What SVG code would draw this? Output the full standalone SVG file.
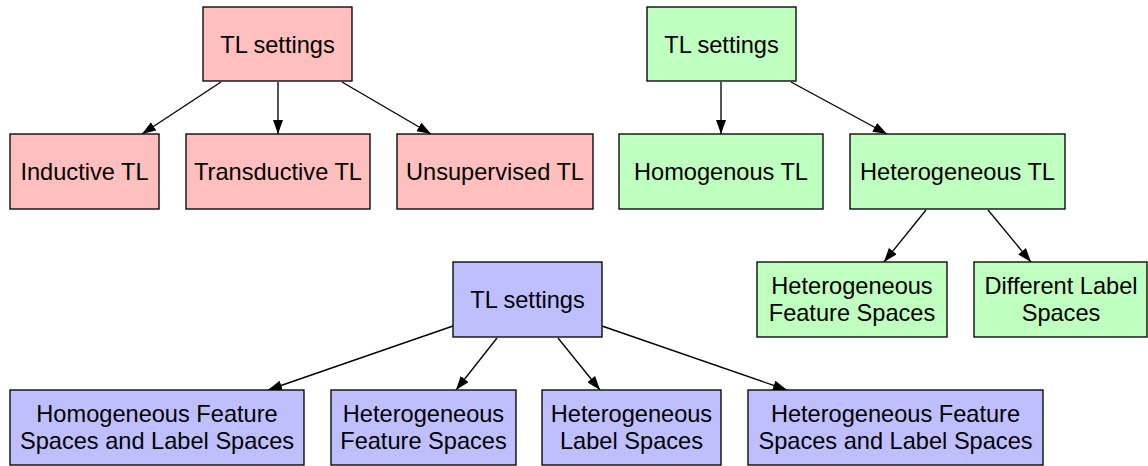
<svg xmlns="http://www.w3.org/2000/svg" width="1148" height="466" viewBox="0 0 1148 466">
<defs>
<style>
.n rect{stroke:#000;stroke-width:1.33}
.r rect{fill:#ffbfbf}
.g rect{fill:#bfffbf}
.b rect{fill:#bfbfff}
text{font-family:"Liberation Sans",Arial,Helvetica,sans-serif;font-size:23.6px;fill:#000;text-anchor:middle}
.e line{stroke:#000;stroke-width:1.33;marker-end:url(#ah)}
</style>
<marker id="ah" markerUnits="userSpaceOnUse" viewBox="0 0 14 10" markerWidth="14" markerHeight="10" refX="14" refY="5" orient="auto">
<path d="M0,0 L14,5 L0,10 z" fill="#000"/>
</marker>
</defs>
<rect width="1148" height="466" fill="#fff"/>
<g id="connectors" class="e">
<line x1="221" y1="82" x2="142" y2="134"/>
<line x1="278" y1="82" x2="278" y2="134"/>
<line x1="342" y1="82" x2="431" y2="134"/>
<line x1="721" y1="82" x2="721" y2="134"/>
<line x1="791" y1="82" x2="887" y2="134"/>
<line x1="926" y1="210" x2="884" y2="262"/>
<line x1="988" y1="210" x2="1031" y2="262"/>
<line x1="453" y1="326" x2="268" y2="390"/>
<line x1="497" y1="338" x2="456" y2="390"/>
<line x1="558" y1="338" x2="600" y2="390"/>
<line x1="602" y1="326" x2="787" y2="390"/>
</g>
<g id="red-root" class="n r"><rect x="203" y="7" width="149" height="74"/><text x="277.5" y="53">TL settings</text></g>
<g id="inductive" class="n r"><rect x="10" y="134" width="149" height="75"/><text x="84.5" y="180">Inductive TL</text></g>
<g id="transductive" class="n r"><rect x="186" y="134" width="184" height="75"/><text x="278" y="180">Transductive TL</text></g>
<g id="unsupervised" class="n r"><rect x="397" y="134" width="196" height="75"/><text x="495" y="180">Unsupervised TL</text></g>
<g id="green-root" class="n g"><rect x="647" y="7" width="149" height="74"/><text x="721.5" y="53">TL settings</text></g>
<g id="homogenous" class="n g"><rect x="619" y="134" width="204" height="75"/><text x="721" y="180">Homogenous TL</text></g>
<g id="heterogeneous" class="n g"><rect x="850" y="134" width="215" height="75"/><text x="957.5" y="180">Heterogeneous TL</text></g>
<g id="g-het-feature" class="n g"><rect x="757" y="262" width="190" height="75"/><text x="852" y="294">Heterogeneous</text><text x="852" y="321">Feature Spaces</text></g>
<g id="g-diff-label" class="n g"><rect x="974" y="262" width="173" height="75"/><text x="1061" y="294">Different Label</text><text x="1061" y="321">Spaces</text></g>
<g id="blue-root" class="n b"><rect x="453" y="262" width="149" height="75"/><text x="527.5" y="308">TL settings</text></g>
<g id="b-homo-both" class="n b"><rect x="10" y="390" width="294" height="75"/><text x="157" y="422">Homogeneous Feature</text><text x="157" y="449">Spaces and Label Spaces</text></g>
<g id="b-het-feature" class="n b"><rect x="331" y="390" width="185" height="75"/><text x="423.5" y="422">Heterogeneous</text><text x="423.5" y="449">Feature Spaces</text></g>
<g id="b-het-label" class="n b"><rect x="542" y="390" width="179" height="75"/><text x="631.5" y="422">Heterogeneous</text><text x="631.5" y="449">Label Spaces</text></g>
<g id="b-het-both" class="n b"><rect x="748" y="390" width="295" height="75"/><text x="895.5" y="422">Heterogeneous Feature</text><text x="895.5" y="449">Spaces and Label Spaces</text></g>
</svg>
